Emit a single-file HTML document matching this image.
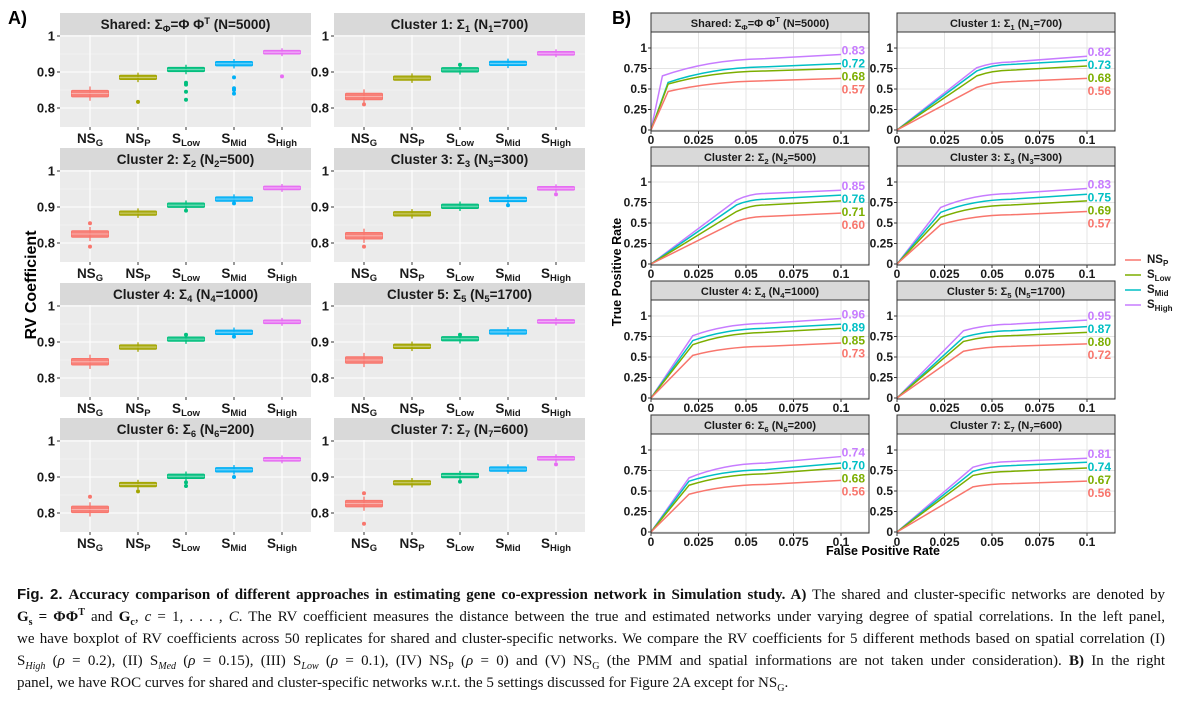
<!DOCTYPE html>
<html><head><meta charset="utf-8">
<style>
html,body{margin:0;padding:0;background:#fff;width:1197px;height:707px;overflow:hidden}
svg{position:absolute;left:0;top:0}
svg text{font-family:"Liberation Sans",sans-serif;font-weight:bold}
#cap{position:absolute;left:17px;top:584px;width:1148px;font-family:"Liberation Serif",serif;font-size:15px;line-height:22px;color:#111}
#cap .l{white-space:nowrap;text-align:justify;text-align-last:justify;height:22px;overflow:visible}
#cap .last{text-align-last:left}
#cap sub,#cap sup{font-size:10px;line-height:0}
.sans{font-family:"Liberation Sans",sans-serif;font-weight:bold}
</style></head><body>
<svg id="fig" width="1197" height="580"></svg>
<div id="cap">
<div class="l"><span class="sans">Fig. 2.</span> <b>Accuracy comparison of different approaches in estimating gene co-expression network in Simulation study. A)</b> The shared and cluster-specific networks are denoted by</div>
<div class="l"><b>G<sub>s</sub> = ΦΦ<sup>T</sup></b> and <b>G<sub>c</sub></b>, <i>c</i> = 1, . . . , <i>C</i>. The RV coefficient measures the distance between the true and estimated networks under varying degree of spatial correlations. In the left panel,</div>
<div class="l">we have boxplot of RV coefficients across 50 replicates for shared and cluster-specific networks. We compare the RV coefficients for 5 different methods based on spatial correlation (I)</div>
<div class="l">S<sub><i>High</i></sub> (<i>ρ</i> = 0.2), (II) S<sub><i>Med</i></sub> (<i>ρ</i> = 0.15), (III) S<sub><i>Low</i></sub> (<i>ρ</i> = 0.1), (IV) NS<sub>P</sub> (<i>ρ</i> = 0) and (V) NS<sub>G</sub> (the PMM and spatial informations are not taken under consideration). <b>B)</b> In the right</div>
<div class="l last">panel, we have ROC curves for shared and cluster-specific networks w.r.t. the 5 settings discussed for Figure 2A except for NS<sub>G</sub>.</div>
</div>
<script>
// ---------- data ----------
const panelTitles=[["Shared: Σ","Φ","=Φ Φ","T"," (N=5000)"],["Cluster 1: Σ","1"," (N","1","=700)"],["Cluster 2: Σ","2"," (N","2","=500)"],["Cluster 3: Σ","3"," (N","3","=300)"],["Cluster 4: Σ","4"," (N","4","=1000)"],["Cluster 5: Σ","5"," (N","5","=1700)"],["Cluster 6: Σ","6"," (N","6","=200)"],["Cluster 7: Σ","7"," (N","7","=600)"]];
const boxCats=[["NS","G"],["NS","P"],["S","Low"],["S","Mid"],["S","High"]];
const boxColors=["#F8766D","#A3A500","#00BF7D","#00B0F6","#E76BF3"];
const boxMedians=[[0.840,0.885,0.907,0.923,0.955],[0.832,0.883,0.906,0.924,0.952],[0.825,0.883,0.905,0.922,0.953],[0.820,0.881,0.902,0.921,0.952],[0.845,0.886,0.908,0.927,0.956],[0.850,0.888,0.909,0.928,0.957],[0.810,0.879,0.902,0.920,0.949],[0.826,0.884,0.904,0.922,0.952]];
const boxHalf=[0.009,0.006,0.006,0.006,0.005];
const boxOutliers=[[[],[0.817],[0.823,0.845,0.865,0.87],[0.84,0.85,0.855,0.885],[0.888]],[[0.81],[],[0.92],[],[]],[[0.855,0.79],[],[0.89],[0.91],[]],[[0.79],[],[],[0.905],[0.935]],[[],[],[0.92],[0.915],[]],[[],[],[0.92],[],[]],[[0.845],[0.86],[0.875,0.885],[0.9],[]],[[0.855,0.77],[],[0.887],[],[0.935]]];
const rvTicks=[1,0.9,0.8];
const rvTickLabels=["1","0.9","0.8"];
// ROC
const rocSeries=["SHigh","SMid","SLow","NSP"];
const rocColors=["#C77CFF","#00BFC4","#7CAE00","#F8766D"];
const rocKinkX=[[0.006,0.009,0.009,0.009],[0.042,0.042,0.042,0.042],[0.045,0.045,0.045,0.045],[0.023,0.023,0.023,0.023],[0.022,0.022,0.022,0.022],[0.035,0.035,0.035,0.035],[0.02,0.02,0.02,0.02],[0.04,0.04,0.04,0.04]];
const rocKinkY=[[0.66,0.58,0.56,0.47],[0.76,0.72,0.66,0.52],[0.78,0.72,0.64,0.52],[0.69,0.63,0.57,0.48],[0.76,0.70,0.65,0.52],[0.82,0.74,0.69,0.57],[0.66,0.62,0.57,0.46],[0.79,0.74,0.69,0.55]];
const rocMidX=0.06;
const rocMidY=[[0.87,0.77,0.72,0.60],[0.83,0.80,0.73,0.59],[0.86,0.79,0.72,0.58],[0.86,0.79,0.72,0.60],[0.91,0.85,0.80,0.63],[0.90,0.82,0.76,0.63],[0.84,0.76,0.71,0.58],[0.86,0.81,0.74,0.59]];
const rocEndY=[[0.92,0.81,0.75,0.63],[0.90,0.85,0.78,0.63],[0.90,0.84,0.77,0.62],[0.92,0.85,0.77,0.64],[0.97,0.90,0.85,0.67],[0.95,0.87,0.80,0.66],[0.92,0.84,0.78,0.63],[0.90,0.85,0.78,0.62]];
const rocAUC=[["0.83","0.72","0.68","0.57"],["0.82","0.73","0.68","0.56"],["0.85","0.76","0.71","0.60"],["0.83","0.75","0.69","0.57"],["0.96","0.89","0.85","0.73"],["0.95","0.87","0.80","0.72"],["0.74","0.70","0.68","0.56"],["0.81","0.74","0.67","0.56"]];
const rocYTicks=[0,0.25,0.5,0.75,1];
const rocYLabels=["0","0.25","0.5","0.75","1"];
const rocXTicks=[0,0.025,0.05,0.075,0.1];
const rocXLabels=["0","0.025","0.05","0.075","0.1"];
const legendLabels=[["NS","P"],["S","Low"],["S","Mid"],["S","High"]];
const legendColors=["#F8766D","#7CAE00","#00BFC4","#C77CFF"];

// ---------- helpers ----------
const svg=document.getElementById('fig');
const NS='http://www.w3.org/2000/svg';
function mk(tag,attrs,parent){const e=document.createElementNS(NS,tag);for(const k in attrs)e.setAttribute(k,attrs[k]);(parent||svg).appendChild(e);return e;}
function subText(parent,x,y,main,sub,size,anchor,fill){
  const t=mk('text',{x:x,y:y,'font-size':size,'text-anchor':anchor||'middle',fill:fill||'#1a1a1a'},parent);
  const a=mk('tspan',{},t);a.textContent=main;
  const b=mk('tspan',{'font-size':size*0.7,dy:3},t);b.textContent=sub;
  return t;
}
function titleText(parent,x,y,parts,size){
  const t=mk('text',{x:x,y:y,'font-size':size,'text-anchor':'middle',fill:'#1a1a1a'},parent);
  parts.forEach((p,i)=>{
    let d=0;
    if(i===1||i===3){d= (parts[2]==="=Φ Φ"&&i===3)?-5:3;}
    const prev=(i===2||i===4)?((parts[2]==="=Φ Φ"&&i===4)?5:-3):0;
    const s=mk('tspan',{dy:d+prev},t);
    if(i===1||i===3) s.setAttribute('font-size',size*0.7);
    s.textContent=p;
  });
  return t;
}

// ---------- labels ----------
let t=mk('text',{x:8,y:24,'font-size':18});t.textContent='A)';

t=mk('text',{x:612,y:24,'font-size':18});t.textContent='B)';

t=mk('text',{x:0,y:0,'font-size':16,'text-anchor':'middle',transform:'translate(36,285) rotate(-90)'});t.textContent='RV Coefficient';

t=mk('text',{x:0,y:0,'font-size':12.5,'text-anchor':'middle',transform:'translate(621,272) rotate(-90)'});t.textContent='True Positive Rate';

t=mk('text',{x:883,y:555,'font-size':12.5,'text-anchor':'middle'});t.textContent='False Positive Rate';


// ---------- panel A boxplots ----------
const aCols=[60,334], aW=251;
function rvY(top,v){return top+1+(1-v)*360;}
for(let p=0;p<8;p++){
  const c=p%2,r=Math.floor(p/2);
  const x0=aCols[c], st=13+r*135, top=st+22, bot=top+92;
  const g=mk('g',{});
  
  
  const s=mk('rect',{x:x0,y:st,width:aW,height:22,fill:'#D9D9D9'},g);
  
  titleText(g,x0+aW/2,st+16,panelTitles[p],13.5);
  mk('rect',{x:x0,y:top,width:aW,height:92,fill:'#EBEBEB'},g);
  rvTicks.forEach((v,i)=>{
    const y=rvY(top,v);
    mk('line',{x1:x0,x2:x0+aW,y1:y,y2:y,stroke:'#fff','stroke-width':1.1},g);
    mk('line',{x1:x0-3,x2:x0,y1:y,y2:y,stroke:'#333'},g);
    const tl=mk('text',{x:x0-5,y:y+4.5,'font-size':13,'text-anchor':'end',fill:'#1a1a1a'},g);tl.textContent=rvTickLabels[i];
    
  });
  [0.95,0.85].forEach(v=>{const y=rvY(top,v);mk('line',{x1:x0,x2:x0+aW,y1:y,y2:y,stroke:'#f6f6f6','stroke-width':0.6},g);});
  boxCats.forEach((cat,i)=>{
    const cx=x0+30+i*48;
    mk('line',{x1:cx,x2:cx,y1:top,y2:bot,stroke:'#fff','stroke-width':1.1},g);
    const m=boxMedians[p][i],h=boxHalf[i];
    const yT=rvY(top,m+h), yB=rvY(top,m-h);
    mk('line',{x1:cx,x2:cx,y1:rvY(top,m+h*2.2),y2:rvY(top,m-h*2.2),stroke:boxColors[i],'stroke-width':1.3},g);
    const b=mk('rect',{x:cx-18.5,y:yT,width:37,height:yB-yT,fill:boxColors[i],stroke:boxColors[i],'fill-opacity':0.9,rx:1},g);
    
    mk('line',{x1:cx-18.5,x2:cx+18.5,y1:rvY(top,m),y2:rvY(top,m),stroke:'#fff','stroke-width':0.8,'stroke-opacity':0.5},g);
    boxOutliers[p][i].forEach(o=>{mk('circle',{cx:cx,cy:rvY(top,o),r:2,fill:boxColors[i]},g);});
    const xl=subText(g,cx,bot+16,cat[0],cat[1],13.5);
    
    mk('line',{x1:cx,x2:cx,y1:bot,y2:bot+3,stroke:'#333'},g);
  });
}

// ---------- panel B ROC ----------
const bCols=[651,897], bW=218;
function rocX(x0,u){return x0+u*1900;}
function rocY(bot,v){return bot-1-v*82;}
for(let p=0;p<8;p++){
  const c=p%2,r=Math.floor(p/2);
  const x0=bCols[c], st=13+r*134, top=st+19, bot=top+99;
  const g=mk('g',{});
  
  
  const s=mk('rect',{x:x0,y:st,width:bW,height:19,fill:'#D9D9D9',stroke:'#333','stroke-width':1},g);
  
  titleText(g,x0+bW/2,st+14,panelTitles[p],11);
  mk('rect',{x:x0,y:top,width:bW,height:99,fill:'#fff'},g);
  rocYTicks.forEach((v,i)=>{
    const y=rocY(bot,v);
    mk('line',{x1:x0,x2:x0+bW,y1:y,y2:y,stroke:'#e4e4e4'},g);
    mk('line',{x1:x0-3,x2:x0,y1:y,y2:y,stroke:'#333'},g);
    const tl=mk('text',{x:x0-4,y:y+4,'font-size':12,'text-anchor':'end',fill:'#1a1a1a'},g);tl.textContent=rocYLabels[i];
    
  });
  rocXTicks.forEach((u,i)=>{
    const x=rocX(x0,u);
    mk('line',{x1:x,x2:x,y1:top,y2:bot,stroke:'#e4e4e4'},g);
    mk('line',{x1:x,x2:x,y1:bot,y2:bot+3,stroke:'#333'},g);
    const tl=mk('text',{x:x,y:bot+13,'font-size':12,'text-anchor':'middle',fill:'#1a1a1a'},g);tl.textContent=rocXLabels[i];
    
  });
  let prevLabel=null;
  rocSeries.forEach((sName,i)=>{
    const kx=rocKinkX[p][i],ky=rocKinkY[p][i],my=rocMidY[p][i],ey=rocEndY[p][i];
    const X1=rocX(x0,kx),Y1=rocY(bot,ky),X2=rocX(x0,rocMidX),Y2=rocY(bot,my),X3=rocX(x0,0.1),Y3=rocY(bot,ey);
    const d=`M${rocX(x0,0)},${rocY(bot,0)} L${X1},${Y1} Q${X1+(X2-X1)*0.45},${Y2-(Y2-Y1)*0.05} ${X2},${Y2} L${X3},${Y3}`;
    const path=mk('path',{d:d,fill:'none',stroke:rocColors[i],'stroke-width':1.5},g);
    
    let ly=rocY(bot,ey)-3;
    if(i===0) ly=rocY(bot,ey)-4;
    if(prevLabel!==null && ly<prevLabel+13) ly=prevLabel+13;
    prevLabel=ly;
    const lt=mk('text',{x:x0+214,y:ly+4,'font-size':12,'text-anchor':'end',fill:rocColors[i]},g);lt.textContent=rocAUC[p][i];
    
  });
  mk('rect',{x:x0,y:top,width:bW,height:99,fill:'none',stroke:'#333','stroke-width':1},g);
}

// legend
legendLabels.forEach((lab,i)=>{
  const y=260+i*15;
  const lg=mk('g',{});
  
  
  mk('line',{x1:1125,x2:1141,y1:y,y2:y,stroke:legendColors[i],'stroke-width':1.5},lg);
  subText(lg,1147,y+3,lab[0],lab[1],11.5,'start');
});
</script>
</body></html>
